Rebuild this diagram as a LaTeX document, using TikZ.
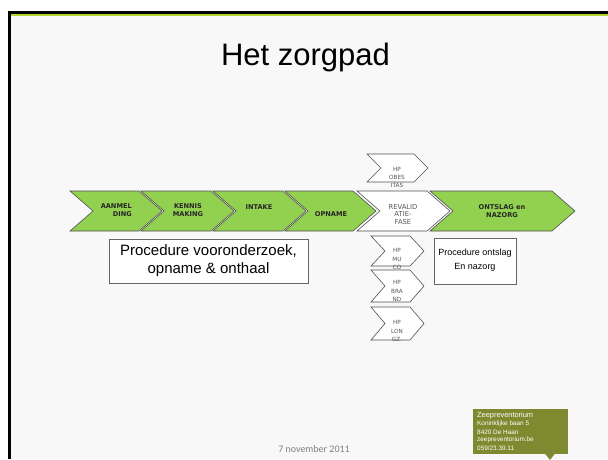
\documentclass[tikz,border=0pt]{standalone}
\usepackage{fontspec}
\setmainfont{Liberation Sans}
\newfontfamily\dejavu{DejaVu Sans}
\newfontfamily\carlito{Carlito}
\definecolor{chevgreen}{RGB}{146,208,80}
\definecolor{slidebg}{RGB}{248,248,248}
\definecolor{limeline}{RGB}{180,211,52}
\definecolor{olivebox}{RGB}{127,137,48}
\definecolor{edgegray}{RGB}{80,80,80}
\definecolor{hpgray}{RGB}{85,85,85}
\newcommand{\chevpath}[6]{%
  \path[#1] (#2,#3) -- ({#2+#5},#3) -- ({#2+#5+#6},{(#3+#4)/2}) -- ({#2+#5},#4) -- (#2,#4) -- ({#2+#6},{(#3+#4)/2}) -- cycle;}
\tikzset{
  greenchev/.style={fill=chevgreen, draw=edgegray, line width=0.6pt, line join=miter},
  whitechev/.style={fill=white, draw=edgegray, line width=0.6pt, line join=miter},
  mainlabel/.style={font=\dejavu\bfseries\fontsize{6.6}{8}\selectfont, text=black!85, align=center, inner sep=0pt},
  revlabel/.style={font=\dejavu\fontsize{6.8}{7.6}\selectfont, text=hpgray, align=center, inner sep=0pt},
  hplabel/.style={font=\dejavu\fontsize{5.7}{8.3}\selectfont, text=hpgray, align=center, inner sep=0pt},
  procbox/.style={fill=white, draw=black!60, line width=0.6pt},
  calltext/.style={font=\fontsize{6.4}{8}\selectfont, text=white, anchor=west, inner sep=0pt}
}
\begin{document}
\begin{tikzpicture}[x=1pt,y=-1pt]
\useasboundingbox (0,0) rectangle (608,459);
% slide frame
\fill[white] (0,0) rectangle (608,459);
\fill[slidebg] (10.5,16) rectangle (608,459);
\fill[black] (8,11) rectangle (10.5,459);
\fill[black] (8,11) rectangle (608,13.5);
\fill[limeline] (10.5,13.5) rectangle (608,16);
% title
\node[font=\fontsize{31}{36}\selectfont, anchor=base] (title) at (305.5,65) {Het zorgpad};
% main row
\chevpath{greenchev}{70}{191}{231}{69}{23}
\node[mainlabel, anchor=east, align=right] (aanmel) at (132,210) {AANMEL\\DING};
\chevpath{greenchev}{141}{191}{231}{70}{23}
\node[mainlabel] (kennis) at (188,210) {KENNIS\\MAKING};
\chevpath{greenchev}{213}{191}{231}{70}{23}
\node[mainlabel] (intake) at (259,207) {INTAKE};
\chevpath{greenchev}{285}{191}{231}{68}{23}
\node[mainlabel] (opname) at (331,214) {OPNAME};
% HP obesitas
\chevpath{whitechev}{367}{154}{182}{47}{14}
\node[hplabel] (hpobes) at (397,177.5) {HP\\OBES\\ITAS};
\chevpath{whitechev}{357}{191}{231}{70}{23}
\node[revlabel] (reval) at (403,214.5) {REVALID\\ATIE-\\FASE};
\chevpath{greenchev}{430}{191}{231}{122}{23}
\node[mainlabel] (ontslag) at (502,211) {ONTSLAG en\\NAZORG};
% HP stack
\chevpath{whitechev}{371}{236}{266}{39}{14}
\node[hplabel] (hpmuco) at (397,259) {HP\\MU\\CO};
\chevpath{whitechev}{371}{270}{302}{39}{14}
\node[hplabel] (hpbrand) at (397,291) {HP\\BRA\\ND};
\chevpath{whitechev}{371}{307}{340}{39}{14}
\node[hplabel] (hplong) at (397,331) {HP\\LON\\GZ.};
% procedure boxes
\draw[procbox] (109,239) rectangle (308,283);
\node[font=\fontsize{15}{18}\selectfont, align=center, inner sep=0pt] (proc1) at (208.5,261) {Procedure vooronderzoek,\\opname \& onthaal};
\draw[procbox] (434,238) rectangle (516,284);
\node[font=\fontsize{9}{13.5}\selectfont, align=center, inner sep=0pt] (proc2) at (475,260) {Procedure ontslag\\En nazorg};
% footer
\node[font=\carlito\fontsize{10}{12}\selectfont, text=black!50, anchor=base] (date) at (314,452) {7 november 2011};
% callout
\fill[olivebox] (473,409) rectangle (568,454);
\fill[olivebox] (545,453.5) -- (555,453.5) -- (550,460) -- cycle;
\node[calltext, font=\fontsize{7.4}{8}\selectfont] (c1) at (477,415.5) {Zeepreventorium};
\node[calltext] (c2) at (477,424) {Koninklijke baan 5};
\node[calltext] (c3) at (477,432) {8420 De Haan};
\node[calltext] (c4) at (477,440) {zeepreventorium.be};
\node[calltext] (c5) at (477,448) {059/23.39.11};
\end{tikzpicture}
\end{document}
